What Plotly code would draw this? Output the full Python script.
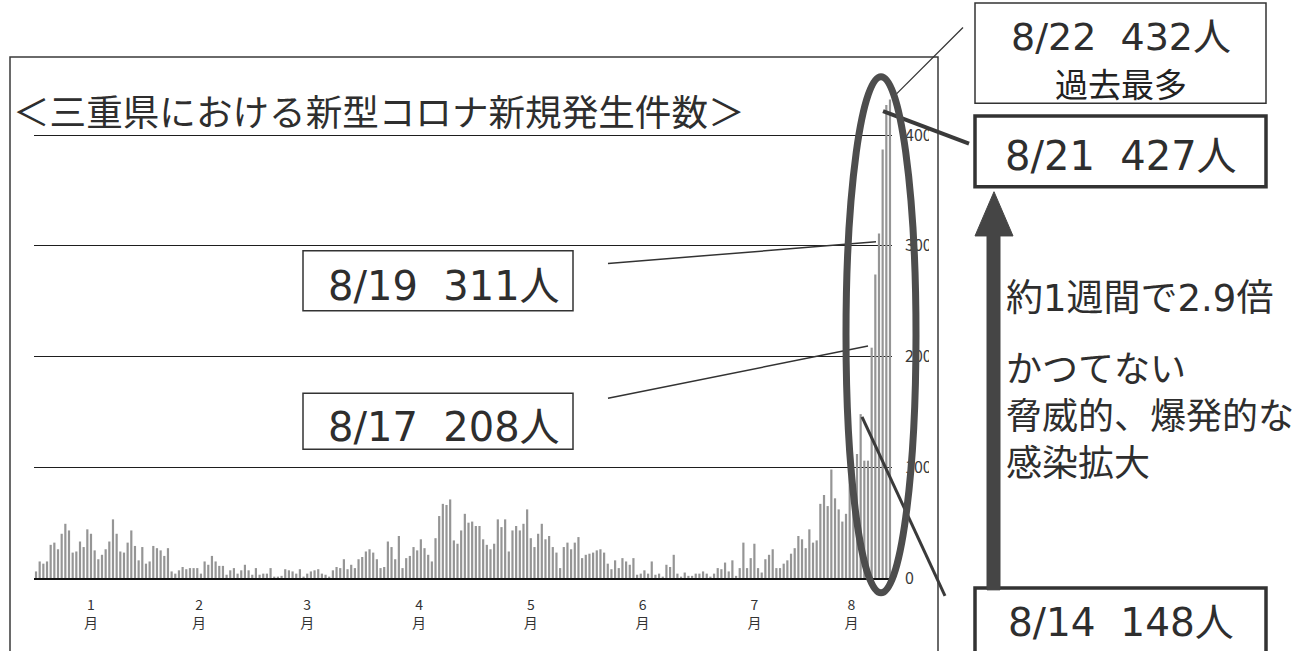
import pandas as pd
import plotly.graph_objects as go

# ---------------- data (daily new cases, Mie prefecture, 2021) ----------------
jan = [6, 15, 13, 15, 30, 32, 26, 40, 49, 43, 23, 24, 33, 28, 44, 40, 25, 17, 21, 26,
       33, 53, 40, 24, 23, 32, 43, 29, 16, 28, 13]
feb = [15, 29, 27, 25, 20, 27, 6, 4, 7, 10, 8, 9, 9, 9, 4, 15, 12, 20, 15, 11,
       11, 3, 7, 9, 4, 7, 12, 7]
mar = [3, 9, 3, 4, 4, 9, 1, 1, 2, 8, 7, 6, 4, 8, 1, 4, 6, 7, 8, 4,
       3, 1, 7, 10, 9, 17, 8, 12, 9, 17, 19]
apr = [24, 26, 23, 17, 9, 10, 33, 28, 17, 38, 9, 18, 20, 28, 25, 35, 27, 21, 15, 36,
       56, 67, 66, 71, 34, 31, 43, 58, 50, 51]
may = [47, 47, 35, 30, 26, 31, 53, 46, 53, 24, 43, 47, 43, 49, 62, 36, 28, 40, 49, 35,
       38, 28, 23, 9, 28, 32, 26, 32, 37, 18, 21]
jun = [22, 23, 25, 26, 23, 13, 8, 16, 9, 18, 15, 12, 18, 3, 4, 7, 4, 15, 3, 4,
       1, 12, 10, 21, 4, 1, 5, 2, 2, 4]
jul = [4, 6, 4, 1, 4, 9, 8, 14, 6, 16, 2, 9, 32, 9, 18, 31, 9, 5, 17, 21,
       26, 9, 9, 13, 16, 22, 27, 38, 35, 27, 44]
aug = [32, 34, 67, 75, 65, 98, 72, 62, 51, 58, 104, 98, 112, 148, 106, 106, 208, 274,
       311, 387, 427, 432]

dates = pd.date_range("2021-01-01", "2021-08-22", freq="D")
cases = jan + feb + mar + apr + may + jun + jul + aug

month_numbers = ["1", "2", "3", "4", "5", "6", "7", "8"]
month_unit = "月"
y_ticks = [0, 100, 200, 300, 400]
y_tick_labels = ["0", "100", "200", "300", "400"]

title_text = "＜三重県における新型コロナ新規発生件数＞"
callout_819 = "8/19  311人"
callout_817 = "8/17  208人"
callout_822 = "8/22  432人"
callout_822b = "過去最多"
callout_821 = "8/21  427人"
callout_814 = "8/14  148人"
note_head = "約1週間で2.9倍"
note_body = ["かつてない", "脅威的、爆発的な", "感染拡大"]

# ---------------- layout helpers ----------------
W, H = 1313, 651
FONT = "Noto Sans CJK JP"
NUMFONT = "DejaVu Sans, Noto Sans CJK JP"
INK = "#2e2e2e"


def px(x):
    return x / W


def py(y):
    return 1 - y / H


s = pd.Series(dates)
mid_ticks = [g.iloc[0] + (g.iloc[-1] - g.iloc[0]) / 2 for _, g in s.groupby(s.dt.month)]

t0 = dates[0]
x_range = [t0 - pd.Timedelta(days=0.55), t0 + pd.Timedelta(days=233.55)]
x_domain = [px(34), px(892)]

fig = go.Figure(
    go.Bar(x=dates, y=cases, marker=dict(color="#959595", line=dict(width=0)),
           hoverinfo="x+y")
)
# invisible companion trace so the second (unit) x-axis is drawn
fig.add_trace(go.Scatter(x=[dates[0]], y=[0], xaxis="x2", mode="markers",
                         marker=dict(opacity=0), hoverinfo="skip"))

fig.update_layout(
    width=W, height=H, margin=dict(l=0, r=0, t=0, b=0),
    paper_bgcolor="white", plot_bgcolor="white",
    showlegend=False, bargap=0.4,
    font=dict(family=FONT, color=INK),
    xaxis=dict(type="date", domain=x_domain, range=x_range,
               tickmode="array", tickvals=mid_ticks, ticktext=month_numbers,
               showgrid=False, zeroline=False, showline=True, linecolor="#111",
               linewidth=2, ticks="", ticklabelstandoff=13,
               tickfont=dict(size=14, color="#333", family=FONT)),
    xaxis2=dict(type="date", domain=x_domain, range=x_range, overlaying="x",
                anchor="y", side="bottom",
                tickmode="array", tickvals=mid_ticks,
                ticktext=[month_unit] * len(month_numbers),
                showgrid=False, zeroline=False, showline=False, ticks="",
                ticklabelstandoff=35,
                tickfont=dict(size=14, color="#333", family=FONT)),
    yaxis=dict(domain=[py(588), py(81)], range=[0, 450], side="right",
               tickmode="array", tickvals=y_ticks, ticktext=y_tick_labels,
               showgrid=True, gridcolor="#1e1e1e", gridwidth=1.4,
               zeroline=False, showline=False, ticks="", ticklabelstandoff=12,
               tickfont=dict(size=16, color="#3a3a3a", family=FONT)),
)

shapes = []


def rect(x0, y0, x1, y1, width=1.5, color="#333", fill=None):
    d = dict(type="rect", xref="paper", yref="paper",
             x0=px(x0), x1=px(x1), y0=py(y1), y1=py(y0),
             line=dict(color=color, width=width))
    if fill:
        d["fillcolor"] = fill
    shapes.append(d)


def line(x0, y0, x1, y1, width=1.5, color="#333"):
    shapes.append(dict(type="line", xref="paper", yref="paper",
                       x0=px(x0), y0=py(y0), x1=px(x1), y1=py(y1),
                       line=dict(color=color, width=width)))


# outer frame of the slide chart
rect(10, 58, 938, 700, width=1.5, color="#3a3a3a")
# clipped right edge of axis labels
rect(929, 110, 937, 605, width=0, color="white", fill="white")

# callout boxes
rect(303, 255, 573, 316)
rect(303, 400, 573, 457)
rect(975, 3, 1266, 105)
rect(975, 118, 1266, 190, width=3.5, color="#333")
rect(975, 598, 1266, 690, width=3.5, color="#333")

# leader lines
line(608, 268, 876, 246)
line(608, 405, 868, 352)
line(963, 28, 893, 99, width=1.2)
line(883, 113, 969, 146, width=4, color="#3a3a3a")
line(945, 606, 862, 424, width=3, color="#3a3a3a")

# ellipse around the latest surge
shapes.append(dict(type="circle", xref="paper", yref="paper",
                   x0=px(846), x1=px(916), y0=py(603), y1=py(78),
                   line=dict(color="#4d4d4d", width=7)))

# big upward arrow
ax = [px(v) for v in (987, 1000, 975, 1013, 994)]
shapes.append(dict(type="path", xref="paper", yref="paper",
                   path=(f"M {ax[0]} {py(600)} L {ax[0]} {py(240)} L {ax[2]} {py(240)} "
                         f"L {ax[4]} {py(195)} L {ax[3]} {py(240)} L {ax[1]} {py(240)} "
                         f"L {ax[1]} {py(600)} Z"),
                   fillcolor="#454545", line=dict(color="#454545", width=1)))

fig.update_layout(shapes=shapes)

ann = []


def text(x, y, t, size, xanchor="left", color=INK, family=FONT, yanchor="middle"):
    ann.append(dict(xref="paper", yref="paper", x=px(x), y=py(y), text=t,
                    showarrow=False, xanchor=xanchor, yanchor=yanchor, align="left",
                    font=dict(size=size, color=color, family=family)))


text(11, 112, title_text, 36.6)
text(444, 291, callout_819, 40, "center", family=NUMFONT)
text(444, 434, callout_817, 40, "center", family=NUMFONT)
text(1121, 38, callout_822, 38, "center", family=NUMFONT)
text(1121, 84, callout_822b, 33, "center", "#222")
text(1121, 159, callout_821, 40, "center", family=NUMFONT)
text(1121, 633, callout_814, 39, "center", family=NUMFONT)
text(1004, 304, note_head, 37, family=NUMFONT)
for yy, t in zip([372, 420, 468], note_body):
    text(1004, yy, t, 36)

fig.update_layout(annotations=ann)

fig.write_html("out.html")
